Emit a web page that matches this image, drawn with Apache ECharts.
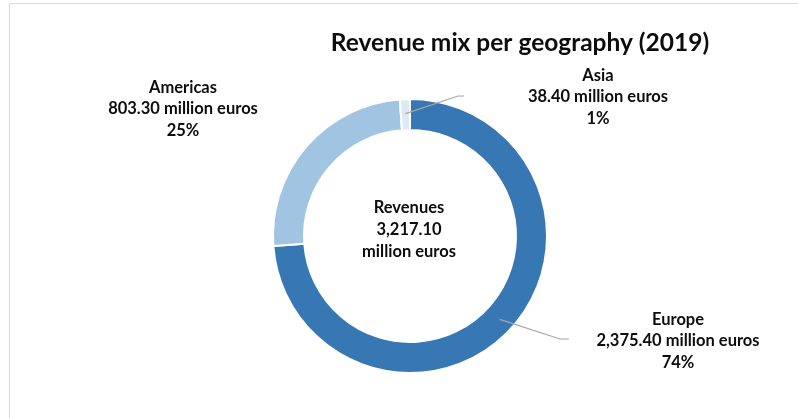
<!DOCTYPE html>
<html>
<head>
<meta charset="utf-8">
<title>Revenue mix per geography (2019)</title>
<script src="https://cdn.jsdelivr.net/npm/echarts@6/dist/echarts.min.js"></script>
<style>
  html, body { margin: 0; padding: 0; background: #ffffff; }
  #chart { width: 798px; height: 418px; }
</style>
</head>
<body>
<div id="chart"></div>
<script>
// Revenue by region, 2019 (million euros)
const regions = ['Europe', 'Americas', 'Asia'];
const revenue = [2375.40, 803.30, 38.40];
const sharePct = [74, 25, 1];
const totalRevenue = 3217.10;
const regionColors = ['#3777b4', '#a2c4e3', '#dce9f5'];

// Ring geometry
const CX = 410, CY = 236;
const R_IN = 106, R_OUT = 137;

// Where each region's label block sits, and where its leader line bends
const labelPos = [[678, 341], [183, 109], [598, 97]];
const leaderBend = [[[560, 339], [569, 339]], null, [[458, 96], [464, 96]]];

const FONT = 'Lato, "Open Sans", "DejaVu Sans", sans-serif';
const fmt = v => v.toLocaleString('en-US', { minimumFractionDigits: 2, maximumFractionDigits: 2 });

// Angle (radians, math convention) at the middle of slice i, starting at 12 o'clock clockwise
const sum = revenue.reduce((a, b) => a + b, 0);
function midAngle(i) {
  let before = 0;
  for (let k = 0; k < i; k++) before += revenue[k];
  const frac = (before + revenue[i] / 2) / sum;
  return (90 - 360 * frac) * Math.PI / 180;
}

const ringBase = {
  type: 'pie',
  center: [CX, CY],
  radius: [R_IN, R_OUT],
  startAngle: 90,
  clockwise: true,
  avoidLabelOverlap: false,
  silent: true
};

const chart = echarts.init(document.getElementById('chart'), null, { renderer: 'canvas' });

chart.setOption({
  animation: false,
  backgroundColor: '#ffffff',
  title: {
    text: 'Revenue mix per geography (2019)',
    left: 515,
    top: 26,
    textAlign: 'center',
    textStyle: { fontFamily: FONT, fontSize: 24.5, fontWeight: 'bold', color: '#0d0d0d' }
  },
  graphic: [
    {
      type: 'rect',
      silent: true,
      shape: { x: 9.5, y: 3.5, width: 1000, height: 1000 },
      style: { fill: null, stroke: '#d9d9d9', lineWidth: 1 }
    },
    {
      type: 'text',
      silent: true,
      x: CX - 1,
      y: 230,
      style: {
        text: 'Revenues\n' + fmt(totalRevenue) + '\nmillion euros',
        align: 'center',
        verticalAlign: 'middle',
        fontFamily: FONT,
        fontSize: 16.5,
        fontWeight: 'bold',
        lineHeight: 22,
        fill: '#0d0d0d'
      }
    }
  ],
  series: [
    // Coloured ring
    Object.assign({}, ringBase, {
      z: 2,
      itemStyle: { borderColor: '#ffffff', borderWidth: 2 },
      label: { show: false },
      labelLine: { show: false },
      data: regions.map((name, i) => ({
        name: name,
        value: revenue[i],
        itemStyle: { color: regionColors[i] }
      }))
    }),
    // Transparent copy on top that carries the labels and leader lines
    Object.assign({}, ringBase, {
      z: 3,
      itemStyle: { color: 'rgba(0,0,0,0)', borderWidth: 0 },
      label: {
        show: true,
        position: 'outside',
        fontFamily: FONT,
        fontSize: 16.5,
        fontWeight: 'bold',
        lineHeight: 21.5,
        color: '#0d0d0d',
        align: 'center',
        formatter: p => p.name + '\n' + fmt(revenue[p.dataIndex]) + ' million euros\n' + sharePct[p.dataIndex] + '%'
      },
      labelLine: {
        show: true,
        lineStyle: { color: '#a6a6a6', width: 1.2 }
      },
      labelLayout: function (params) {
        const i = params.dataIndex;
        const out = {
          x: labelPos[i][0],
          y: labelPos[i][1],
          align: 'center',
          verticalAlign: 'middle'
        };
        if (leaderBend[i]) {
          const a = midAngle(i);
          const r = (R_IN + R_OUT) / 2 + 1;
          const start = [CX + r * Math.cos(a), CY - r * Math.sin(a)];
          out.labelLinePoints = [start, leaderBend[i][0], leaderBend[i][1]];
        }
        return out;
      },
      data: regions.map((name, i) => ({
        name: name,
        value: revenue[i],
        labelLine: { show: leaderBend[i] !== null }
      }))
    })
  ]
});
</script>
</body>
</html>
